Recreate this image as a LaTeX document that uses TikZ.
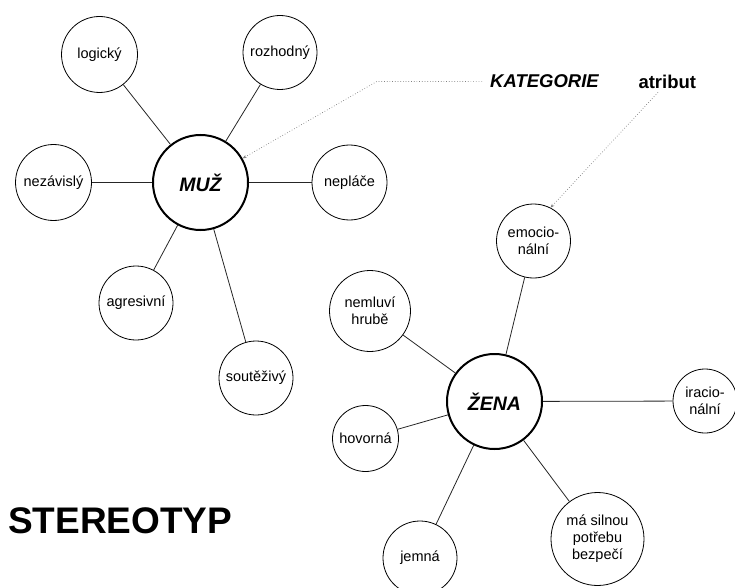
\documentclass[tikz,border=0pt]{standalone}
\usepackage{fontspec}
\setmainfont{Liberation Sans}
\usetikzlibrary{arrows.meta, positioning}

\begin{document}
\begin{tikzpicture}[
    x=1pt, y=-1pt,
    trait/.style={circle, draw=black, line width=0.8pt, inner sep=0pt, align=center, font=\fontsize{14.5}{17}\selectfont},
    core/.style={circle, draw=black, line width=2pt, minimum size=95pt, inner sep=0pt, font=\fontsize{19.5}{22}\selectfont\bfseries\itshape},
    link/.style={line width=0.8pt, draw=black!85},
    pointer/.style={dotted, line width=0.7pt, draw=black!50, -{Stealth[length=4pt, width=3pt]}},
    tag/.style={anchor=base west, inner ysep=3pt, font=\fontsize{18.5}{22}\selectfont\bfseries}
]
\useasboundingbox (0,0) rectangle (735,588);
\clip (0,0) rectangle (735,588);

% categories
\node (muz) [core] at (200.5,182.5) {MUŽ};
\node (zena) [core] at (494.5,401.5) {ŽENA};

% attributes of MUŽ
\node (logicky) [trait, minimum size=76pt] at (99.5,54.5) {logický};
\node (rozhodny) [trait, minimum size=74pt] at (280,52.5) {rozhodný};
\node (nezavisly) [trait, minimum size=76pt] at (53.5,182.5) {nezávislý};
\node (neplace) [trait, minimum size=75pt] at (349.5,182.5) {nepláče};
\node (agresivni) [trait, minimum size=74pt] at (136,303) {agresivní};
\node (soutezivy) [trait, minimum size=74pt] at (256,378) {soutěživý};

% attributes of ŽENA
\node (emoc) [trait, minimum size=74pt] at (533.5,241) {emocio-\\nální};
\node (nemluvi) [trait, minimum size=81pt] at (370,311) {nemluví\\hrubě};
\node (iracio) [trait, minimum size=64pt] at (705,401) {iracio-\\nální};
\node (hovorna) [trait, minimum size=66pt] at (365.5,438.5) {hovorná};
\node (bezpeci) [trait, minimum size=93pt] at (597.5,539) {má silnou\\potřebu\\bezpečí};
\node (jemna) [trait, minimum size=74pt] at (420,558) {jemná};

\draw [link] (muz) -- (logicky);
\draw [link] (muz) -- (rozhodny);
\draw [link] (muz) -- (nezavisly);
\draw [link] (muz) -- (neplace);
\draw [link] (muz) -- (agresivni);
\draw [link] (muz) -- (soutezivy);

\draw [link] (zena) -- (emoc);
\draw [link] (zena) -- (nemluvi);
\draw [link] (zena) -- (iracio);
\draw [link] (zena) -- (hovorna);
\draw [link] (zena) -- (bezpeci);
\draw [link] (zena) -- (jemna);

% legend
\node (kategorie) [tag, inner xsep=8pt, font=\fontsize{18.5}{22}\selectfont\bfseries\itshape] at (482,88) {KATEGORIE};
\node (atribut) [tag] at (635,89) {atribut};
\coordinate (bend) at (377,81.4);

\draw [pointer] (kategorie.west) -- (bend) -- (muz);
\draw [pointer] (atribut) -- (emoc.63);

\node (title) [anchor=base west, inner sep=0pt, font=\fontsize{37}{40}\selectfont\bfseries] at (8,533) {STEREOTYP};

\end{tikzpicture}
\end{document}
